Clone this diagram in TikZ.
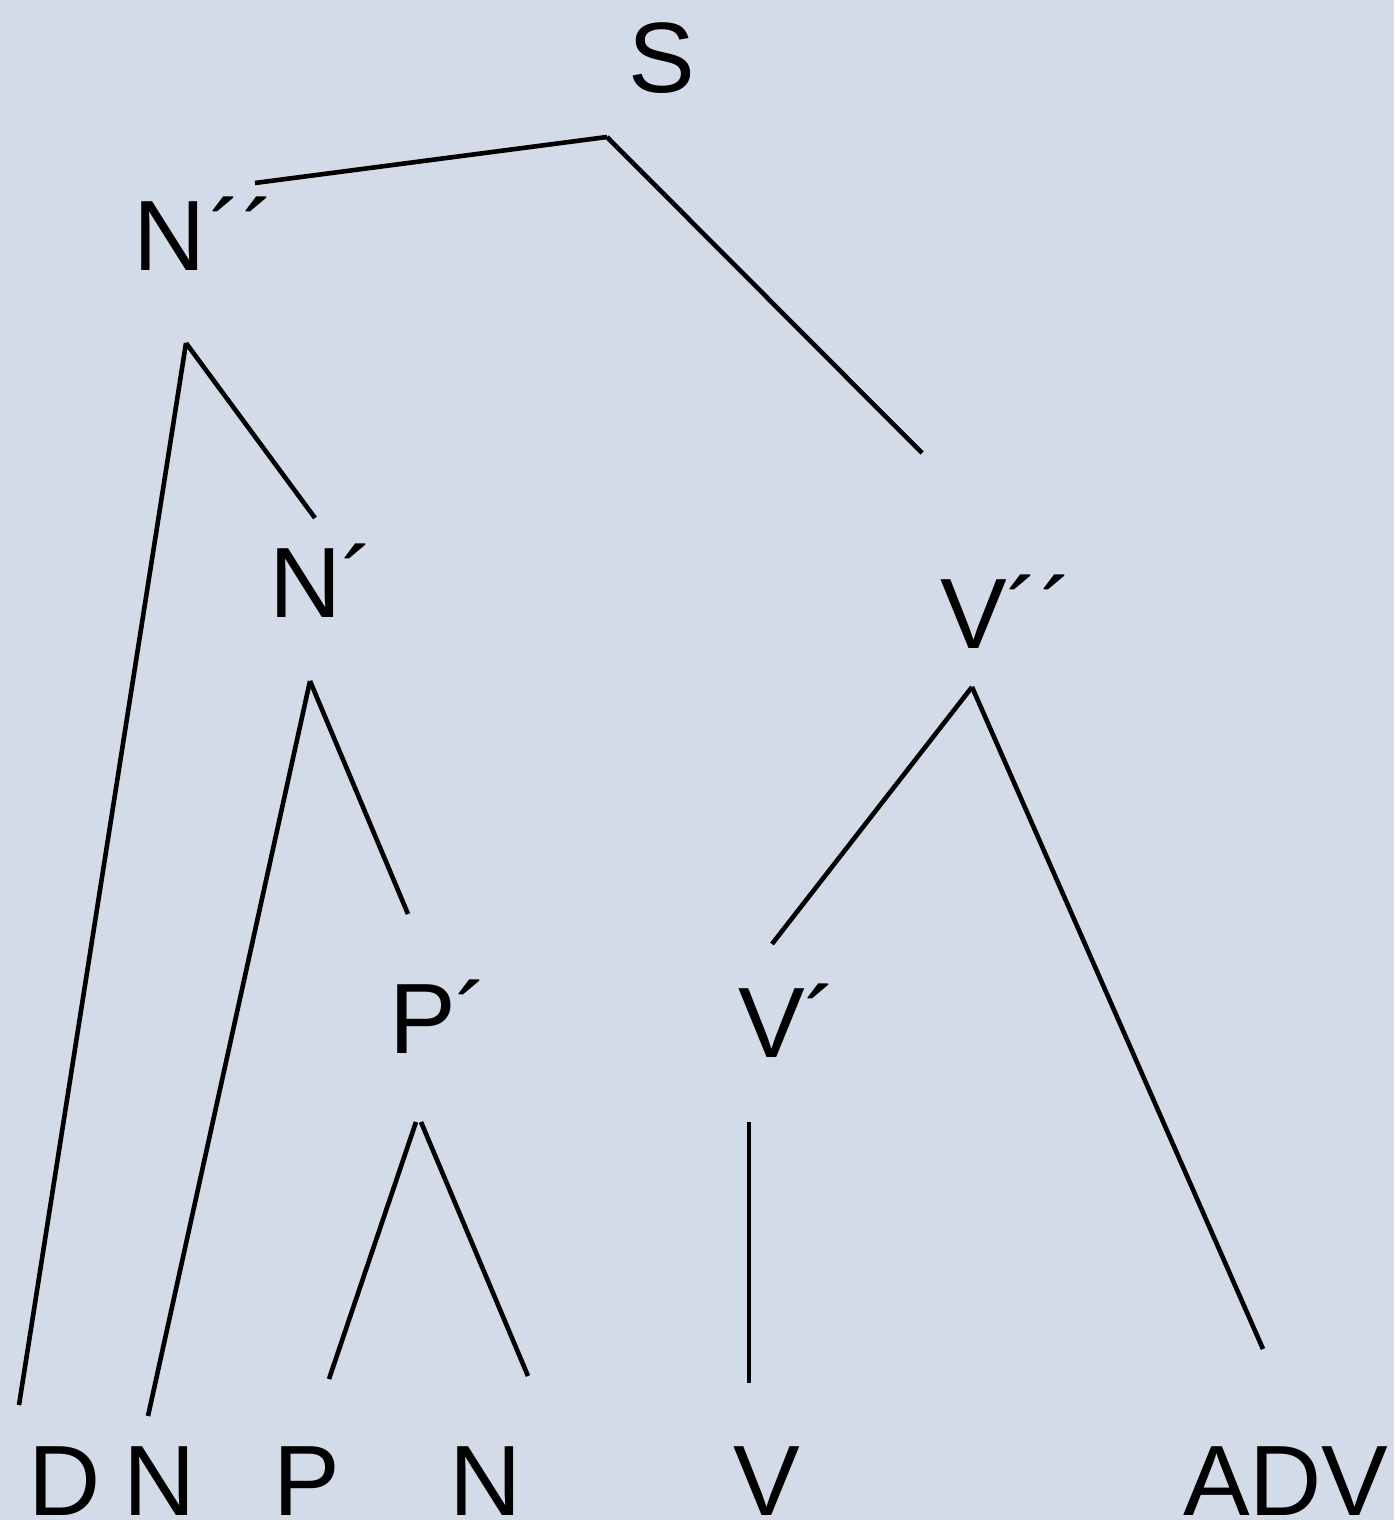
\documentclass[tikz,border=0pt]{standalone}
\usepackage{fontspec}
\setmainfont{Liberation Sans}
\definecolor{bg}{HTML}{D3DAE8}
\begin{document}
\begin{tikzpicture}[x=0.5pt,y=-0.5pt,
  lbl/.style={inner sep=0pt,outer sep=0pt,anchor=base west,font=\fontsize{50}{60}\selectfont},
  edge/.style={line width=2.3pt,black}]
\fill[bg] (0,0) rectangle (1394,1520);
\useasboundingbox (0,0) rectangle (1394,1520);
% labels
\node[lbl] (S) at (628,93) {S};
\node[lbl] (Npp) at (133,270) {N\kern2pt´´};
\node[lbl] (Np) at (269,617) {N´};
\node[lbl] (Vpp) at (940,648) {V´´};
\node[lbl] (Pp) at (389,1053) {P´};
\node[lbl] (Vp) at (738,1057) {V´};
\node[lbl] (D) at (28,1515) {D};
\node[lbl] (N1) at (123,1515) {N};
\node[lbl] (P) at (273,1515) {P};
\node[lbl] (N2) at (449,1515) {N};
\node[lbl] (V) at (733,1515) {V};
\node[lbl] (ADV) at (1183,1515) {ADV};
% connector ends
\coordinate (S-b) at (607,137);
\coordinate (Npp-t) at (255,183);
\coordinate (Vpp-t) at (922,453);
\coordinate (Npp-b) at (186,343);
\coordinate (D-t) at (19,1405);
\coordinate (Np-t) at (315,518);
\coordinate (Np-b) at (310,681);
\coordinate (N1-t) at (148,1416);
\coordinate (Pp-t) at (408,914);
\coordinate (Vpp-b) at (972,687);
\coordinate (Vp-t) at (772,944);
\coordinate (ADV-t) at (1263,1349);
\coordinate (Pp-bl) at (416,1122);
\coordinate (Pp-br) at (421,1122);
\coordinate (P-t) at (329,1379);
\coordinate (N2-t) at (528,1376);
\coordinate (Vp-b) at (749,1122);
\coordinate (V-t) at (749,1383);
% connectors
\draw[edge] (S-b) -- (Npp-t);
\draw[edge] (S-b) -- (Vpp-t);
\draw[edge] (Npp-b) -- (D-t);
\draw[edge] (Npp-b) -- (Np-t);
\draw[edge] (Np-b) -- (N1-t);
\draw[edge] (Np-b) -- (Pp-t);
\draw[edge] (Vpp-b) -- (Vp-t);
\draw[edge] (Vpp-b) -- (ADV-t);
\draw[edge] (Pp-bl) -- (P-t);
\draw[edge] (Pp-br) -- (N2-t);
\draw[edge] (Vp-b) -- (V-t);
\end{tikzpicture}
\end{document}
